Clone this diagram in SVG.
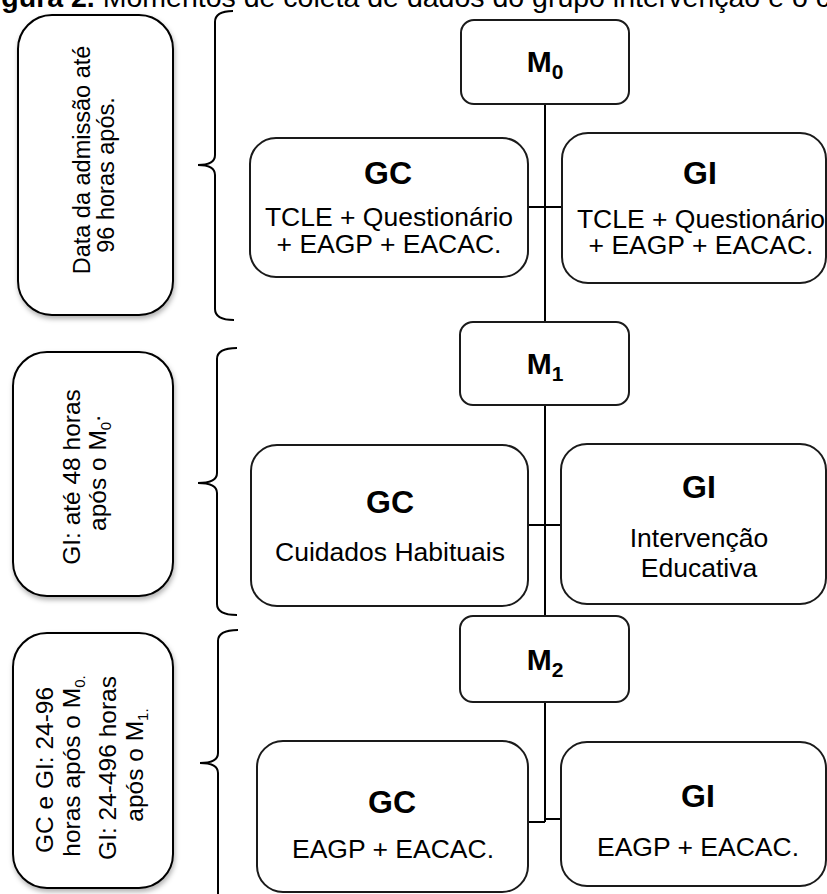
<svg xmlns="http://www.w3.org/2000/svg" width="827" height="894" viewBox="0 0 827 894">
<style>
  .t { font-family: "Liberation Sans", Arial, sans-serif; fill: #000; }
  .b { font-weight: bold; }
  .box { fill: #fff; stroke: #1a1a1a; stroke-width: 2; }
  .lbox { fill: #fff; stroke: #000; stroke-width: 2; filter: url(#sh); }
  .line { fill: none; stroke: #000; stroke-width: 2; }
  .body { font-size: 26.5px; text-anchor: middle; }
  .head { font-size: 32px; font-weight: bold; text-anchor: middle; }
  .mm { font-size: 30px; font-weight: bold; text-anchor: middle; }
</style>
<defs>
  <filter id="sh" x="-20%" y="-20%" width="140%" height="140%">
    <feDropShadow dx="1" dy="3" stdDeviation="2.5" flood-color="#000" flood-opacity="0.3"/>
  </filter>
</defs>
<rect width="827" height="894" fill="#fff"/>

<text class="t" x="-24" y="7" font-size="28.5"><tspan class="b">Figura 2.</tspan> Momentos de coleta de dados do grupo intervenção e o controle.</text>

<g id="connectors">
  <path class="line" d="M545 104 V322 M545 405 V616 M545 702 V822"/>
  <path class="line" d="M528 207 H562"/>
  <path class="line" d="M528 525 H561"/>
  <path class="line" d="M528 822 H545 M545 819 H561"/>
  <path class="line" d="M233 11 Q215 11 215 22 V155 Q215 165 198 165 Q215 165 215 175 V309 Q215 320 234 320"/>
  <path class="line" d="M237 348 Q217 348 217 359 V473 Q217 483 198 483 Q217 483 217 493 V604 Q217 615 237 615"/>
  <path class="line" d="M238 630 Q218 630 218 641 V753 Q218 763 200 763 Q218 763 218 773 V900"/>
</g>

<g id="note0">
  <rect class="lbox" x="18" y="15" width="155" height="300" rx="34"/>
  <text class="t" font-size="23.5" text-anchor="middle" transform="translate(90,160) rotate(-90)">Data da admissão até</text>
  <text class="t" font-size="23.5" text-anchor="middle" transform="translate(114,175) rotate(-90)">96 horas após.</text>
</g>
<g id="note1">
  <rect class="lbox" x="13" y="352" width="160" height="244" rx="34"/>
  <text class="t" font-size="24.5" text-anchor="middle" transform="translate(80,477) rotate(-90)">GI: até 48 horas</text>
  <text class="t" font-size="24.5" text-anchor="middle" transform="translate(106,473) rotate(-90)">após o M<tspan font-size="15" dy="5">0</tspan><tspan dy="-11">.</tspan></text>
</g>
<g id="note2">
  <rect class="lbox" x="13" y="633" width="160" height="255" rx="34"/>
  <text class="t" font-size="24.5" text-anchor="middle" transform="translate(53,770) rotate(-90)">GC e GI: 24-96</text>
  <text class="t" font-size="24.5" text-anchor="middle" transform="translate(80,766) rotate(-90)">horas após o M<tspan font-size="15" dy="5">0.</tspan></text>
  <text class="t" font-size="24.5" text-anchor="middle" transform="translate(116,768) rotate(-90)">GI: 24-496 horas</text>
  <text class="t" font-size="24.5" text-anchor="middle" transform="translate(143,765) rotate(-90)">após o M<tspan font-size="15" dy="5">1.</tspan></text>
</g>

<g id="m0">
  <rect class="box" x="461" y="20" width="168" height="84" rx="13"/>
  <text class="t mm" x="545" y="72">M<tspan font-size="21" dy="7">0</tspan></text>
</g>
<g id="gc1">
  <rect class="box" x="250" y="138" width="278" height="139" rx="26"/>
  <text class="t head" x="388" y="184">GC</text>
  <text class="t body" x="389" y="226">TCLE + Questionário</text>
  <text class="t body" x="389" y="253">+ EAGP + EACAC.</text>
</g>
<g id="gi1">
  <rect class="box" x="562" y="133" width="264" height="150" rx="26"/>
  <text class="t head" x="700" y="184">GI</text>
  <text class="t body" x="701" y="228">TCLE + Questionário</text>
  <text class="t body" x="701" y="254">+ EAGP + EACAC.</text>
</g>

<g id="m1">
  <rect class="box" x="460" y="322" width="169" height="83" rx="13"/>
  <text class="t mm" x="545" y="374">M<tspan font-size="21" dy="7">1</tspan></text>
</g>
<g id="gc2">
  <rect class="box" x="251" y="445" width="277" height="161" rx="26"/>
  <text class="t head" x="390" y="513">GC</text>
  <text class="t body" x="390" y="561">Cuidados Habituais</text>
</g>
<g id="gi2">
  <rect class="box" x="561" y="444" width="265" height="160" rx="26"/>
  <text class="t head" x="699" y="498">GI</text>
  <text class="t body" x="699" y="547">Intervenção</text>
  <text class="t body" x="699" y="577">Educativa</text>
</g>

<g id="m2">
  <rect class="box" x="460" y="616" width="169" height="86" rx="13"/>
  <text class="t mm" x="545" y="670">M<tspan font-size="21" dy="7">2</tspan></text>
</g>
<g id="gc3">
  <rect class="box" x="257" y="741" width="271" height="151" rx="26"/>
  <text class="t head" x="392" y="813">GC</text>
  <text class="t body" x="393" y="858">EAGP + EACAC.</text>
</g>
<g id="gi3">
  <rect class="box" x="561" y="742" width="265" height="144" rx="26"/>
  <text class="t head" x="698" y="807">GI</text>
  <text class="t body" x="698" y="856">EAGP + EACAC.</text>
</g>
</svg>
